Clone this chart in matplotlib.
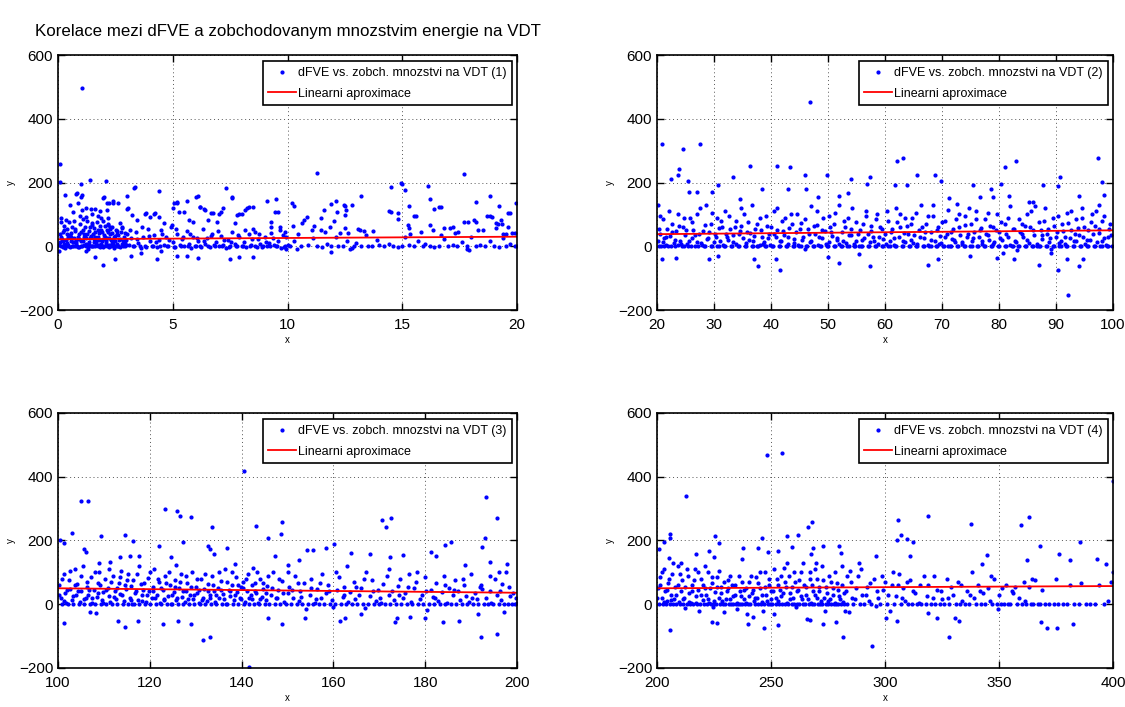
import numpy as np
import matplotlib
matplotlib.use("Agg")
import matplotlib.pyplot as plt

plt.rcParams['font.family'] = ['Liberation Sans Narrow', 'Liberation Sans', 'DejaVu Sans']

title = "Korelace mezi dFVE a zobchodovanym mnozstvim energie na VDT"
labels = ["dFVE vs. zobch. mnozstvi na VDT (1)", "dFVE vs. zobch. mnozstvi na VDT (2)",
          "dFVE vs. zobch. mnozstvi na VDT (3)", "dFVE vs. zobch. mnozstvi na VDT (4)"]
fit_label = "Linearni aproximace"

xlims = [(0, 20), (20, 100), (100, 200), (200, 400)]
xticks = [[0, 5, 10, 15, 20], [20, 30, 40, 50, 60, 70, 80, 90, 100],
          [100, 120, 140, 160, 180, 200], [200, 250, 300, 350, 400]]
yticks = [-200, 0, 200, 400, 600]

# linear fits (end points)
fit1 = [(0, 22), (20, 30)]
fit2 = [(20, 38), (100, 50)]
fit3 = [(100, 50), (200, 36)]
fit4 = [(200, 50), (400, 57)]

# panel 1 points (x, y)
p1 = [
    (0.08, 259), (0.1, 201), (1.0, 196), (1.4, 209), (2.1, 206), (1.06, 497), (0.3, 161), (0.8, 163),
    (1.0, 155), (1.95, 150), (2.15, 137), (2.4, 137), (3.0, 159), (3.3, 184), (4.4, 173), (1.2, 120),
    (1.6, 117), (3.0, 117), (3.8, 101), (4.2, 101), (5.0, 120), (5.2, 137), (5.6, 143), (6.0, 153),
    (6.1, 158), (6.2, 122), (6.4, 115), (7.3, 184), (7.6, 151), (7.0, 101), (7.2, 120), (7.9, 101),
    (8.3, 122), (8.5, 124), (9.1, 143), (9.5, 148), (9.6, 108), (10.2, 135), (10.3, 126), (10.85, 91),
    (11.3, 231), (11.6, 113), (11.9, 134), (12.1, 143), (12.5, 125), (12.8, 130), (13.2, 158), (14.5, 186),
    (14.5, 108), (15.0, 196), (15.1, 177), (15.3, 125), (15.6, 94), (16.1, 189), (16.2, 147), (16.4, 117),
    (16.7, 122), (17.7, 227), (18.2, 139), (18.8, 159), (18.9, 92), (19.2, 125), (19.7, 103), (19.95, 137),
    (19.35, 70), (19.1, 57),
    (1.95, -59), (1.6, -35), (2.5, -40), (4.3, -40), (5.2, -30), (5.6, -30), (6.1, -36), (7.5, -39),
    (7.9, -34), (8.5, -34), (11.9, -18), (3.2, -31), (1.2, -15), (0.05, -15), (3.6, -21), (4.5, -15),
    (17.8, -10), (12.7, -10), (9.95, -10),
    (0.12, 77), (0.33, 82), (0.52, 129), (0.67, 108), (0.81, 166), (0.86, 137), (1.03, 161), (1.03, 114),
    (1.2, 93), (1.42, 116), (1.5, 72), (1.73, 95), (1.83, 112), (2.02, 156), (2.12, 114), (2.19, 88),
    (2.22, 135), (2.41, 143), (2.63, 135), (2.19, 67), (3.04, 121), (3.24, 98), (3.35, 187), (3.43, 82),
    (3.82, 103), (4.0, 93), (4.22, 103), (4.4, 93), (4.63, 72), (4.95, 67), (5.07, 135), (5.17, 140),
    (5.27, 108), (5.5, 106), (5.7, 82), (5.9, 77), (6.18, 124), (6.37, 116), (6.55, 82), (6.66, 105),
    (6.76, 105), (6.91, 77), (7.08, 108), (7.56, 153), (7.7, 72), (7.78, 98), (8.0, 100), (8.13, 114),
    (8.25, 119), (8.57, 46), (9.27, 77), (9.3, 61), (9.47, 108), (9.67, 51), (9.87, 46),
    (10.25, 63), (10.47, 40), (10.65, 74), (10.73, 82), (11.05, 51), (11.17, 63), (11.44, 88), (11.46, 51),
    (11.63, 46), (11.85, 61), (12.04, 79), (12.14, 106), (12.29, 43), (12.45, 129), (12.5, 98), (12.5, 56),
    (12.55, 114), (12.65, 43), (13.06, 53), (13.16, 51), (13.33, 49), (13.74, 48), (14.44, 111), (14.83, 103),
    (14.83, 87), (14.93, 199), (15.23, 67), (15.29, 56), (15.34, 40), (15.53, 96), (15.81, 46), (16.21, 66),
    (16.32, 51), (16.61, 124), (16.69, 35), (16.8, 56), (17.1, 56), (17.2, 61), (17.31, 43), (17.41, 45),
    (17.7, 77), (17.88, 77), (18.13, 82), (18.21, 77), (18.31, 51), (18.53, 51), (18.69, 95), (18.81, 95),
    (19.07, 72), (19.19, 70), (19.29, 82), (19.4, 40), (19.5, 38), (19.59, 105), (19.59, 61), (19.8, 43),
    (19.9, 43),
    (0.05, 5), (0.1, 12), (0.15, 30), (0.2, 45), (0.25, 8), (0.3, -5), (0.35, 20), (0.4, 55), (0.45, 3),
    (0.5, 35), (0.55, 15), (0.6, 62), (0.65, 0), (0.7, 25), (0.75, 48), (0.8, 10), (0.85, -3), (0.9, 38),
    (0.95, 70), (1.0, 18), (1.05, 2), (1.1, 52), (1.15, 28), (1.2, 6), (1.25, 40), (1.3, -8), (1.35, 14),
    (1.4, 60), (1.45, 33), (1.5, 1), (1.55, 22), (1.6, 45), (1.65, 9), (1.7, 75), (1.75, 30), (1.8, 4),
    (1.85, 50), (1.9, 17), (1.95, -2), (2.0, 36), (2.05, 65), (2.1, 11), (2.15, 27), (2.2, 3), (2.25, 55),
    (2.3, 20), (2.35, 42), (2.4, 6), (2.45, -6), (2.5, 31), (2.55, 48), (2.6, 2), (2.7, 24), (2.8, 58),
    (2.9, 10), (3.0, 38),
    (0.12, 0), (0.22, -2), (0.32, 1), (0.42, 0), (0.52, -1), (0.62, 2), (0.72, 0), (0.82, 1), (0.92, -2),
    (1.02, 0), (1.12, 3), (1.22, 0), (1.32, -1), (1.42, 1), (1.52, 0), (1.62, 2), (1.72, 0), (1.82, -2),
    (1.92, 0), (2.02, 1), (2.12, 0), (2.22, -1), (2.32, 2), (2.42, 0), (2.52, 1), (2.62, 0), (2.72, -2),
    (2.82, 0), (2.92, 1),
    (0.18, 22), (0.38, 40), (0.58, 30), (0.78, 18), (0.98, 45), (1.18, 35), (1.38, 25), (1.58, 12),
    (1.78, 42), (1.98, 24), (2.18, 46), (2.38, 15), (2.58, 38), (2.78, 8), (2.98, 20), (0.28, 65),
    (0.68, 80), (1.08, 85), (1.48, 68), (1.88, 88), (2.28, 60), (2.68, 72),
    (0.07, 40), (0.14, 90), (0.23, 18), (0.27, 50), (0.37, 10), (0.43, 28), (0.47, 75), (0.57, 42),
    (0.63, 12), (0.73, 55), (0.77, 4), (0.87, 30), (0.93, 22), (0.97, 95), (1.07, 15), (1.13, 40),
    (1.17, 62), (1.23, 25), (1.27, 80), (1.33, 48), (1.37, 5), (1.43, 30), (1.47, 100), (1.53, 40),
    (1.57, 58), (1.63, 28), (1.67, 15), (1.73, 50), (1.77, 20), (1.83, 65), (1.87, 8), (1.93, 45),
    (1.97, 78), (2.03, 30), (2.07, 15), (2.13, 52), (2.17, 70), (2.23, 25), (2.27, 40), (2.33, 10),
    (2.37, 62), (2.43, 30), (2.47, 18), (2.53, 50), (2.57, 8), (2.63, 35), (2.67, 20), (2.73, 45),
    (2.77, 60), (2.83, 15), (2.87, 30), (2.93, 42), (2.97, 5),
    (3.15, 50), (3.45, 22), (3.65, 60), (3.95, 32), (4.25, 12), (4.55, 38), (4.85, 20), (5.15, 55),
    (5.45, 28), (5.75, 40), (6.05, 25), (6.35, 15), (6.65, 32), (6.95, 48), (7.25, 20), (7.55, 12),
    (7.85, 35), (8.15, 50), (8.45, 22), (8.75, 40), (9.05, 12), (9.35, 25), (9.65, 60), (9.95, 30),
    (3.1, 5), (3.2, 25), (3.3, 0), (3.4, 45), (3.5, 10), (3.6, -4), (3.7, 30), (3.8, 2), (3.9, 55),
    (4.0, 15), (4.1, 0), (4.2, 35), (4.3, -3), (4.4, 20), (4.5, 50), (4.6, 4), (4.7, 28), (4.8, 0),
    (4.9, 60), (5.0, 12), (5.1, -2), (5.2, 38), (5.3, 3), (5.4, 22), (5.5, 0), (5.6, 47), (5.7, 8),
    (5.8, -5), (5.9, 30), (6.0, 2), (6.1, 18), (6.2, 0), (6.3, 55), (6.4, 6), (6.5, 25), (6.6, -1),
    (6.7, 40), (6.8, 3), (6.9, 12), (7.0, 0), (7.1, 33), (7.2, 5), (7.3, -4), (7.4, 20), (7.5, 0),
    (7.6, 45), (7.7, 7), (7.8, 2), (7.9, 28), (8.0, 0), (8.1, 14), (8.2, -3), (8.3, 38), (8.4, 4),
    (8.5, 55), (8.6, 0), (8.7, 22), (8.8, 6), (8.9, -2), (9.0, 30), (9.1, 0), (9.2, 10), (9.3, 42),
    (9.4, 3), (9.5, 0), (9.6, 18), (9.7, -6), (9.8, 35), (9.9, 1),
    (3.25, 0), (3.55, 1), (3.85, -1), (4.15, 0), (4.45, 2), (4.75, 0), (5.05, -1), (5.35, 0), (5.65, 1),
    (5.95, 0), (6.25, -2), (6.55, 0), (6.85, 1), (7.15, 0), (7.45, -1), (7.75, 0), (8.05, 1), (8.35, 0),
    (8.65, -1), (8.95, 0), (9.25, 2), (9.55, 0), (9.85, -1),
    (10.0, 5), (10.1, 0), (10.3, 15), (10.4, -8), (10.6, 0), (10.9, 3), (11.1, 25), (11.3, 0), (11.5, -2),
    (11.7, 8), (11.9, 0), (12.1, 30), (12.2, 2), (12.4, 0), (12.6, 18), (12.8, -4), (12.9, 0), (13.0, 10),
    (13.2, 0), (13.4, 35), (13.5, 2), (13.7, 0), (13.9, 20), (14.0, 5), (14.2, 0), (14.4, 8), (14.6, 0),
    (14.8, -3), (15.0, 0), (15.1, 28), (15.3, 3), (15.5, 0), (15.7, 15), (15.9, 0), (16.0, 6), (16.2, 0),
    (16.4, -2), (16.6, 0), (16.8, 22), (17.0, 0), (17.2, 4), (17.4, 0), (17.6, 12), (17.8, 0), (17.9, -12),
    (18.0, 30), (18.2, 0), (18.4, 5), (18.6, 0), (18.8, 18), (19.0, 0), (19.2, -3), (19.4, 25), (19.5, 0),
    (19.7, 8), (19.9, 0), (20.0, 2),
]

# panel 2 points (x, y)
p2 = [
    (20.8, 321), (24.5, 305), (27.5, 321), (46.8, 454), (36.4, 253), (41.0, 253), (43.4, 250), (45.9, 224),
    (23.9, 241), (23.6, 222), (22.4, 211), (25.4, 206), (33.4, 217), (30.7, 191), (49.8, 222), (54.0, 210),
    (57.4, 218), (62.1, 266), (63.2, 276), (68.7, 225), (69.8, 206), (65.7, 225), (83.0, 269), (81.1, 248),
    (97.3, 277), (90.7, 218), (98.0, 203), (75.5, 193), (78.6, 180), (80.4, 194), (87.8, 191), (90.4, 189),
    (63.9, 193), (61.8, 191), (56.8, 196), (51.9, 159), (53.5, 166), (48.3, 154), (46.1, 180), (42.9, 180),
    (38.5, 180), (34.6, 147), (29.6, 170), (27.1, 170), (25.6, 170), (20.1, 128), (71.3, 151), (72.6, 133),
    (76.6, 156), (78.9, 156), (81.7, 157), (85.2, 139), (86.0, 139), (94.1, 159), (97.5, 128), (98.5, 161),
    (20.9, -39), (23.4, -36), (29.1, -41), (30.7, -30), (37.0, -39), (37.7, -61), (41.6, -76), (40.8, -39),
    (50.0, -33), (51.9, -54), (57.3, -61), (55.4, -23), (67.5, -59), (69.3, -39), (74.9, -31), (79.6, -36),
    (82.7, -39), (87.1, -59), (90.3, -75), (92.1, -153), (94.1, -61), (94.8, -41), (89.1, -21), (91.9, -41),
    (20.2, 15), (20.5, 40), (20.7, 0), (21.0, 85), (21.2, 25), (21.5, 5), (21.8, 55), (22.0, 0), (22.3, 32),
    (22.6, 70), (22.9, 10), (23.1, 0), (23.4, 48), (23.7, 100), (24.0, 18), (24.3, 0), (24.6, 62), (24.9, 35),
    (25.2, 8), (25.5, 0), (25.8, 90), (26.1, 27), (26.4, 52), (26.7, 0), (27.0, 14), (27.3, 38), (27.6, 120),
    (27.9, 3), (28.2, 0), (28.5, 66), (28.8, 22), (29.1, 45), (29.4, 0), (29.7, 105), (30.0, 12), (30.3, 30),
    (30.6, 0), (30.9, 58), (31.2, 78), (31.5, 5), (31.8, 0), (32.1, 40), (32.4, 20), (32.7, 95), (33.0, 0),
    (33.3, 35), (33.6, 62), (33.9, 8), (34.2, 0), (34.5, 48), (34.8, 120), (35.1, 25), (35.4, 0), (35.7, 10),
    (36.0, 75), (36.3, 42), (36.6, 0), (36.9, 18), (37.2, 55), (37.5, 2), (37.8, 0), (38.1, 88), (38.4, 30),
    (38.7, 12), (39.0, 0), (39.3, 65), (39.6, 40), (39.9, 5), (40.2, 0), (40.5, 110), (40.8, 28), (41.1, 50),
    (41.4, 0), (41.7, 15), (42.0, 80), (42.3, 36), (42.6, 0), (42.9, 8), (43.2, 58), (43.5, 100), (43.8, 0),
    (44.1, 22), (44.4, 45), (44.7, 3), (45.0, 0), (45.3, 72), (45.6, 30), (45.9, -10), (46.2, 0), (46.5, 55),
    (46.8, 12), (47.1, 125), (47.4, 0), (47.7, 38), (48.0, 68), (48.3, 4), (48.6, 0), (48.9, 26), (49.2, 90),
    (49.5, 48), (49.8, 0), (50.1, 14), (50.4, 60), (50.7, 32), (51.0, 0), (51.3, 105), (51.6, 20), (51.9, 6),
    (52.2, 0), (52.5, 44), (52.8, 78), (53.1, 10), (53.4, 0), (53.7, 35), (54.0, 55), (54.3, 120), (54.6, 0),
    (54.9, 18), (55.2, 40), (55.5, 2), (55.8, 0), (56.1, 70), (56.4, 25), (56.7, 95), (57.0, 0), (57.3, 12),
    (57.6, 48), (57.9, 30), (58.2, 0), (58.5, 85), (58.8, 8), (59.1, 60), (59.4, 0), (59.7, 22), (60.0, 40),
    (60.3, 110), (60.6, 0), (60.9, 15), (61.2, 55), (61.5, 5), (61.8, 0), (62.1, 75), (62.4, 28), (62.7, 100),
    (63.0, 0), (63.3, 42), (63.6, 12), (63.9, 65), (64.2, 0), (64.5, 20), (64.8, 88), (65.1, 35), (65.4, 0),
    (65.7, 8), (66.0, 50), (66.3, 130), (66.6, 0), (66.9, 25), (67.2, 70), (67.5, 4), (67.8, 0), (68.1, 45),
    (68.4, 95), (68.7, 18), (69.0, 0), (69.3, 60), (69.6, 32), (69.9, 10), (70.2, 0), (70.5, 80), (70.8, 40),
    (71.1, 2), (71.4, 0), (71.7, 22), (72.0, 55), (72.3, 12), (72.6, 0), (72.9, 100), (73.2, 35), (73.5, 6),
    (73.8, 0), (74.1, 68), (74.4, 28), (74.7, 120), (75.0, 0), (75.3, 15), (75.6, 45), (75.9, 85), (76.2, 0),
    (76.5, 30), (76.8, 58), (77.1, 8), (77.4, 0), (77.7, 40), (78.0, 105), (78.3, 20), (78.6, 0), (78.9, 62),
    (79.2, 12), (79.5, 50), (79.8, 0), (80.1, 25), (80.4, 75), (80.7, -20), (81.0, 0), (81.3, 38), (81.6, 90),
    (81.9, 5), (82.2, 0), (82.5, 55), (82.8, 18), (83.1, -12), (83.4, 0), (83.7, 45), (84.0, 70), (84.3, 28),
    (84.6, 0), (84.9, 100), (85.2, 10), (85.5, 60), (85.8, 0), (86.1, 35), (86.4, 125), (86.7, 2), (87.0, 0),
    (87.3, 50), (87.6, 22), (87.9, 80), (88.2, 0), (88.5, 40), (88.8, 12), (89.1, -8), (89.4, 0), (89.7, 65),
    (90.0, 30), (90.3, 95), (90.6, 0), (90.9, 18), (91.2, 48), (91.5, 6), (91.8, 0), (92.1, 72), (92.4, 25),
    (92.7, 110), (93.0, 0), (93.3, 40), (93.6, 15), (93.9, 58), (94.2, 0), (94.5, 88), (94.8, 30), (95.1, 8),
    (95.4, 0), (95.7, 50), (96.0, 20), (96.3, 100), (96.6, 0), (96.9, 65), (97.2, 12), (97.5, 42), (97.8, 0),
    (98.1, 80), (98.4, 25), (98.7, 5), (99.0, 0), (99.3, 55), (99.6, 35), (99.9, 0),
    (20.4, 0), (21.3, 2), (22.5, 0), (23.6, 3), (24.8, 0), (26.0, 1), (27.2, 0), (28.4, 2), (29.6, 0),
    (30.8, 1), (32.0, 0), (33.2, 2), (34.4, 0), (35.6, 1), (36.8, 0), (38.0, 3), (39.2, 0), (40.4, 1),
    (41.6, 0), (42.8, 2), (44.0, 0), (45.2, 1), (46.4, 0), (47.6, 2), (48.8, 0), (50.0, 1), (51.2, 0),
    (52.4, 2), (53.6, 0), (54.8, 1), (56.0, 0), (57.2, 2), (58.4, 0), (59.6, 1), (60.8, 0), (62.0, 2),
    (63.2, 0), (64.4, 1), (65.6, 0), (66.8, 2), (68.0, 0), (69.2, 1), (70.4, 0), (71.6, 2), (72.8, 0),
    (74.0, 1), (75.2, 0), (76.4, 2), (77.6, 0), (78.8, 1), (80.0, 0), (81.2, 2), (82.4, 0), (83.6, 1),
    (84.8, 0), (86.0, 2), (87.2, 0), (88.4, 1), (89.6, 0), (90.8, 2), (92.0, 0), (93.2, 1), (94.4, 0),
    (95.6, 2), (96.8, 0), (98.0, 1), (99.2, 0),
    (20.3, 55), (20.6, 95), (21.1, 12), (21.6, 30), (22.1, 110), (22.7, 45), (23.2, 20), (23.8, 65),
    (24.2, 8), (24.7, 90), (25.1, 50), (25.6, 15), (26.2, 75), (26.6, 35), (27.1, 100), (27.7, 10),
    (28.0, 48), (28.6, 130), (29.0, 25), (29.5, 70), (30.1, 40), (30.5, 90), (31.0, 18), (31.4, 60),
    (31.9, 110), (32.3, 28), (32.8, 55), (33.4, 12), (33.8, 80), (34.3, 38), (34.7, 65), (35.2, 100),
    (35.8, 45), (36.2, 20), (36.7, 130), (37.1, 32), (37.6, 70), (38.2, 50), (38.6, 8), (39.1, 95),
    (39.5, 25), (40.0, 60), (40.6, 40), (41.0, 120), (41.5, 18), (42.1, 48), (42.5, 90), (43.0, 30),
    (43.6, 70), (44.0, 10), (44.5, 100), (45.1, 55), (45.5, 20), (46.0, 85), (46.6, 40), (47.0, 15),
    (47.5, 65), (48.1, 110), (48.5, 30), (49.0, 50), (49.6, 8), (50.2, 95), (50.6, 45), (51.1, 70),
    (51.5, 25), (52.0, 130), (52.6, 15), (53.0, 60), (53.5, 90), (54.1, 35), (54.5, 8), (55.0, 75),
    (55.6, 50), (56.0, 20), (56.6, 110), (57.1, 40), (57.5, 65), (58.0, 15), (58.6, 100), (59.0, 30),
    (59.5, 55), (60.1, 8), (60.5, 80), (61.0, 45), (61.6, 25), (62.0, 120), (62.6, 60), (63.1, 18),
    (63.5, 90), (64.0, 38), (64.6, 70), (65.0, 10), (65.5, 105), (66.1, 28), (66.5, 60), (67.0, 45),
    (67.6, 95), (68.0, 20), (68.5, 130), (69.1, 50), (69.5, 8), (70.0, 75), (70.6, 30), (71.0, 115),
    (71.5, 45), (72.1, 20), (72.5, 85), (73.0, 60), (73.6, 12), (74.0, 95), (74.5, 40), (75.1, 70),
    (75.5, 25), (76.0, 110), (76.6, 50), (77.0, 15), (77.5, 85), (78.1, 35), (78.5, 65), (79.0, 8),
    (79.6, 100), (80.0, 45), (80.5, 20), (81.1, 70), (81.5, 30), (82.0, 125), (82.6, 55), (83.0, 12),
    (83.5, 85), (84.1, 40), (84.5, 65), (85.0, 20), (85.6, 110), (86.0, 50), (86.6, 8), (87.1, 75),
    (87.5, 35), (88.0, 120), (88.6, 55), (89.0, 25), (89.5, 90), (90.1, 45), (90.5, 10), (91.0, 70),
    (91.6, 30), (92.0, 105), (92.6, 50), (93.1, 15), (93.5, 85), (94.0, 35), (94.6, 120), (95.0, 60),
    (95.5, 20), (96.1, 75), (96.5, 40), (97.0, 110), (97.6, 55), (98.0, 15), (98.5, 95), (99.1, 30),
    (99.5, 70),
]

# panel 3 points (x, y)
p3 = [
    (140.5, 419), (104.9, 325), (106.6, 325), (123.3, 299), (126.0, 293), (126.5, 278), (129.0, 275),
    (133.5, 241), (143.1, 246), (148.8, 257), (148.5, 219), (145.8, 207), (103.0, 224), (100.4, 203),
    (101.3, 191), (109.3, 215), (114.6, 217), (116.3, 198), (122.0, 184), (127.3, 194), (132.6, 184),
    (133.2, 173), (133.9, 156), (136.7, 175), (170.6, 263), (171.4, 242), (172.6, 270), (193.2, 335),
    (195.7, 270), (193.0, 207), (185.6, 196), (184.2, 186), (160.2, 189), (158.4, 175), (181.3, 165),
    (182.3, 152), (172.4, 147), (175.2, 155), (168.0, 158), (163.8, 162), (154.3, 170), (155.6, 170),
    (152.4, 139), (150.0, 123), (192.3, 180), (194.0, 134), (197.8, 125), (196.0, 102), (105.7, 172),
    (106.0, 163), (108.9, 128), (111.3, 134), (113.6, 149), (115.7, 151), (117.7, 152), (124.5, 147),
    (125.6, 123), (138.5, 125), (142.5, 113), (147.3, 151), (188.7, 123),
    (101.3, -60), (107.0, -23), (108.2, -26), (113.0, -52), (114.6, -72), (117.5, -52), (122.9, -63),
    (126.2, -52), (129.0, -63), (131.5, -112), (133.0, -103), (141.6, -198), (145.8, -42), (148.8, -63),
    (153.8, -44), (161.4, -54), (162.6, -42), (166.0, -30), (173.5, -56), (173.9, -42), (176.6, -39),
    (179.9, -42), (183.8, -56), (187.4, -52), (192.1, -103), (195.7, -93), (191.6, -30), (197.2, -23),
    (100.3, 60), (100.6, 20), (100.9, 0), (101.2, 95), (101.5, 35), (101.8, 5), (102.1, 0), (102.4, 75),
    (102.7, 48), (103.0, 12), (103.3, 0), (103.6, 110), (103.9, 28), (104.2, 62), (104.5, 0), (104.8, 8),
    (105.1, 40), (105.4, 120), (105.7, 0), (106.0, 18), (106.3, 55), (106.6, 30), (106.9, 0), (107.2, 85),
    (107.5, 3), (107.8, 45), (108.1, 0), (108.4, 22), (108.7, 68), (109.0, 100), (109.3, 0), (109.6, 14),
    (109.9, 38), (110.2, 80), (110.5, 0), (110.8, 52), (111.1, 25), (111.4, 6), (111.7, 0), (112.0, 90),
    (112.3, 42), (112.6, 15), (112.9, 0), (113.2, 65), (113.5, 32), (113.8, 105), (114.1, 0), (114.4, 10),
    (114.7, 48), (115.0, 75), (115.3, 0), (115.6, 20), (115.9, 58), (116.2, 2), (116.5, 0), (116.8, 35),
    (117.1, 95), (117.4, 12), (117.7, 0), (118.0, 62), (118.3, 28), (118.6, 45), (118.9, 0), (119.2, 8),
    (119.5, 82), (119.8, 40), (120.1, 0), (120.4, 18), (120.7, 55), (121.0, 110), (121.3, 0), (121.6, 30),
    (121.9, 70), (122.2, 5), (122.5, 0), (122.8, 45), (123.1, 15), (123.4, 90), (123.7, 0), (124.0, 25),
    (124.3, 60), (124.6, 2), (124.9, 0), (125.2, 38), (125.5, 75), (125.8, 12), (126.1, 0), (126.4, 52),
    (126.7, 95), (127.0, 22), (127.3, 0), (127.6, 8), (127.9, 42), (128.2, 68), (128.5, 0), (128.8, 30),
    (129.1, 100), (129.4, 15), (129.7, 0), (130.0, 55), (130.3, 35), (130.6, 4), (130.9, 0), (131.2, 80),
    (131.5, 20), (131.8, 48), (132.1, 0), (132.4, 10), (132.7, 62), (133.0, 28), (133.3, 0), (133.6, 90),
    (133.9, 40), (134.2, 6), (134.5, 0), (134.8, 50), (135.1, 18), (135.4, 72), (135.7, 0), (136.0, 32),
    (136.3, 112), (136.6, 2), (136.9, 0), (137.2, 45), (137.5, 25), (137.8, 60), (138.1, 0), (138.4, 12),
    (138.7, 85), (139.0, 38), (139.3, 0), (139.6, 20), (139.9, 55), (140.2, 70), (140.5, 0), (140.8, 8),
    (141.1, 42), (141.4, 95), (141.7, 0), (142.0, 28), (142.3, 15), (142.6, 0), (142.9, 65), (143.2, 35),
    (143.5, 5), (143.8, 0), (144.1, 78), (144.4, 22), (144.7, 48), (145.0, 0), (145.3, 12), (145.6, 58),
    (146.0, 0), (146.4, 30), (146.8, 100), (147.2, 0), (147.6, 18), (148.0, 45), (148.4, 0), (148.8, 72),
    (149.2, 8), (149.6, 0), (150.0, 35), (150.4, 55), (150.8, 0), (151.2, 20), (151.6, 88), (152.0, 0),
    (152.4, 10), (152.8, 42), (153.2, 0), (153.6, 65), (154.0, -15), (154.4, 0), (154.8, 28), (155.2, 80),
    (155.6, 0), (156.0, 5), (156.4, 48), (156.8, 0), (157.2, 18), (157.6, 95), (158.0, 0), (158.4, 35),
    (158.8, 60), (159.2, 0), (159.6, 12), (160.0, -10), (160.4, 0), (160.8, 45), (161.2, 85), (161.6, 0),
    (162.0, 22), (162.4, 55), (162.8, 0), (163.2, 8), (163.6, 38), (164.0, 0), (164.4, 70), (164.8, 15),
    (165.2, 0), (165.6, 30), (166.0, 50), (166.4, 0), (166.8, -12), (167.2, 100), (167.6, 0), (168.0, 25),
    (168.4, 75), (168.8, 0), (169.2, 10), (169.6, 45), (170.0, 0), (170.4, 5), (170.8, 62), (171.2, 0),
    (171.6, 90), (172.0, 28), (172.4, 0), (172.8, 40), (173.2, 12), (173.6, 0), (174.0, 58), (174.4, 80),
    (174.8, 0), (175.2, 20), (175.6, 35), (176.0, 0), (176.4, 95), (176.8, 8), (177.2, 0), (177.6, 50),
    (178.0, 70), (178.4, 0), (178.8, 15), (179.2, 30), (179.6, 0), (180.0, 85), (180.4, -18), (180.8, 0),
    (181.2, 45), (181.6, 22), (182.0, 0), (182.4, 65), (182.8, 10), (183.2, 0), (183.6, 38), (184.0, 90),
    (184.4, 0), (184.8, 5), (185.2, 52), (185.6, 0), (186.0, 28), (186.4, 75), (186.8, 0), (187.2, 40),
    (187.6, 12), (188.0, 0), (188.4, 60), (188.8, 25), (189.2, 0), (189.6, 8), (190.0, 95), (190.4, 0),
    (190.8, 35), (191.2, 15), (191.6, 0), (192.0, 55), (192.4, 48), (192.8, 0), (193.2, 20), (193.6, 0),
    (194.0, 40), (194.4, 5), (194.8, 0), (195.2, 80), (195.6, 30), (196.0, 0), (196.4, 12), (196.8, 62),
    (197.2, 0), (197.6, 100), (198.0, 0), (198.4, 25), (198.8, 0), (199.2, 35), (199.6, 0), (199.9, 5),
    (100.2, 30), (100.8, 80), (101.4, 10), (102.0, 45), (102.6, 105), (103.2, 25), (103.8, 60), (104.4, 40),
    (105.0, 90), (105.6, 15), (106.2, 70), (106.8, 45), (107.4, 20), (108.0, 100), (108.6, 35), (109.2, 60),
    (109.8, 5), (110.4, 45), (111.0, 110), (111.6, 70), (112.2, 22), (112.8, 50), (113.4, 85), (114.0, 30),
    (114.6, 60), (115.2, 95), (115.8, 12), (116.4, 75), (117.0, 40), (117.6, 120), (118.2, 10), (118.8, 65),
    (119.4, 30), (120.0, 100), (120.6, 40), (121.2, 20), (121.8, 80), (122.4, 50), (123.0, 12), (123.6, 65),
    (124.2, 100), (124.8, 30), (125.4, 55), (126.0, 20), (126.6, 70), (127.2, 42), (127.8, 90), (128.4, 15),
    (129.0, 55), (129.6, 30), (130.2, 80), (130.8, 45), (131.4, 12), (132.0, 95), (132.6, 40), (133.2, 20),
    (133.8, 60), (134.4, 30), (135.0, 100), (135.6, 45), (136.2, 15), (136.8, 70), (137.4, 40), (138.0, 100),
    (138.6, 30), (139.2, 60), (139.8, 15), (140.4, 50), (141.0, 80), (141.6, 20), (142.2, 60), (142.8, 40),
    (143.4, 100), (144.0, 15), (144.6, 65), (145.2, 35), (145.8, 90), (146.6, 50), (147.4, 20), (148.2, 80),
    (149.0, 35), (150.2, 100), (151.0, 45), (152.2, 65), (153.0, 22), (155.0, 50), (156.2, 15), (157.0, 68),
    (159.0, 40), (160.6, 100), (162.2, 30), (163.0, 120), (165.0, 55), (166.6, 80), (168.6, 40), (170.2, 20),
    (172.2, 110), (174.2, 30), (176.2, 55), (178.2, 100), (180.2, 40), (182.2, 20), (184.2, 60), (186.2, 45),
    (188.2, 80), (190.2, 20), (192.2, 60), (194.2, 90), (196.2, 40), (198.2, 55), (199.8, 20),
]

# panel 4 points (x, y)
p4 = [
    (248.3, 468), (255.0, 475), (212.7, 338), (363.2, 273), (359.5, 248), (318.9, 278), (305.7, 263),
    (337.8, 252), (268.1, 257), (266.2, 242), (306.9, 218), (305.4, 203), (309.8, 205), (312.5, 194),
    (261.8, 216), (257.0, 215), (245.9, 208), (225.6, 213), (227.3, 192), (205.9, 221), (205.5, 208),
    (202.9, 194), (200.8, 174), (385.4, 195), (393.0, 143), (397.0, 127), (367.9, 182), (362.4, 140),
    (376.3, 156), (381.0, 138), (400.0, 388), (344.6, 154), (342.7, 125), (311.1, 151), (295.9, 151),
    (288.8, 130), (284.8, 104), (280.0, 184), (280.8, 161), (272.7, 184), (268.3, 177), (267.5, 156),
    (269.8, 130), (259.0, 179), (253.2, 166), (248.5, 163), (244.1, 177), (237.8, 175), (237.1, 142),
    (224.9, 148), (222.7, 166), (217.0, 156), (210.4, 130), (205.2, 146),
    (205.9, -81), (224.2, -55), (226.1, -59), (239.9, -62), (247.0, -76), (253.1, -66), (267.3, -50),
    (272.9, -62), (278.4, -55), (281.6, -102), (294.3, -130), (300.6, -42), (305.4, -52), (328.0, -102),
    (330.7, -42), (332.3, -52), (368.4, -55), (371.1, -76), (375.5, -76), (382.6, -62), (349.4, -16),
    (318.9, -26), (322.8, -42),
    (200.5, 50), (201.0, 0), (201.5, 85), (202.0, 20), (202.5, 0), (203.0, 110), (203.5, 40), (204.0, 0),
    (204.5, 10), (205.0, 65), (205.5, 0), (206.0, 30), (206.5, 95), (207.0, 0), (207.5, 15), (208.0, 55),
    (208.5, 0), (209.0, 120), (209.5, 8), (210.0, 0), (210.5, 40), (211.0, 75), (211.5, 0), (212.0, 20),
    (212.5, -12), (213.0, 0), (213.5, 90), (214.0, 35), (214.5, 0), (215.0, 5), (215.5, 60), (216.0, 0),
    (216.5, 110), (217.0, 25), (217.5, 0), (218.0, 45), (218.5, -20), (219.0, 0), (219.5, 80), (220.0, 12),
    (220.5, 0), (221.0, 50), (221.5, 30), (222.0, 0), (222.5, 100), (223.0, 5), (223.5, 0), (224.0, 65),
    (224.5, -10), (225.0, 0), (225.5, 38), (226.0, 0), (226.5, 85), (227.0, 20), (227.5, 0), (228.0, 55),
    (228.5, 10), (229.0, 0), (229.5, -25), (230.0, 0), (230.5, 40), (231.0, 75), (231.5, 0), (232.0, 15),
    (232.5, 0), (233.0, 60), (233.5, 0), (234.0, 30), (234.5, 0), (235.0, -15), (235.5, 0), (236.0, 90),
    (236.5, 0), (237.0, 25), (237.5, 0), (238.0, 45), (238.5, 0), (239.0, 5), (239.5, -30), (240.0, 0),
    (240.5, 70), (241.0, 0), (241.5, 35), (242.0, -40), (242.5, 10), (243.0, 0), (243.5, 85), (244.0, 20),
    (244.5, 0), (245.0, 50), (245.5, 0), (246.0, 8), (246.5, -20), (247.0, 0), (247.5, 100), (248.0, 30),
    (248.5, 0), (249.0, 60), (249.5, 0), (250.0, 15), (250.5, 0), (251.0, 40), (251.5, -30), (252.0, 0),
    (252.5, 80), (253.0, 10), (253.5, 0), (254.0, 45), (254.5, 25), (255.0, 0), (255.5, 115), (256.0, 0),
    (256.5, 55), (257.0, 5), (257.5, 0), (258.0, 90), (258.5, 35), (259.0, 0), (259.5, 20), (260.0, 0),
    (260.5, 70), (261.0, -10), (261.5, 0), (262.0, 45), (262.5, 0), (263.0, 100), (263.5, 15), (264.0, 0),
    (264.5, 60), (265.0, 0), (265.5, 30), (266.0, -45), (266.5, 0), (267.0, 80), (267.5, 5), (268.0, 0),
    (268.5, 40), (269.0, 0), (269.5, 110), (270.0, 20), (270.5, 0), (271.0, 55), (271.5, 0), (272.0, 10),
    (272.5, 0), (273.0, 75), (273.5, -20), (274.0, 0), (274.5, 35), (275.0, 0), (275.5, 90), (276.0, 15),
    (276.5, 0), (277.0, 50), (277.5, 0), (278.0, 5), (278.5, 0), (279.0, 65), (279.5, 0), (280.0, 25),
    (280.5, 0), (281.0, 120), (281.5, 8), (282.0, 0), (282.5, -20), (283.0, 40), (283.5, 0), (284.0, -25),
    (285.0, 70), (286.0, 0), (287.0, 15), (288.0, 90), (289.0, 0), (290.0, 30), (291.0, 0), (292.0, 55),
    (293.0, 10), (294.0, 0), (295.0, 80), (296.0, -5), (297.0, 20), (298.0, 0), (299.0, 45), (300.0, 70),
    (301.0, 0), (302.0, -20), (303.0, 60), (304.0, 0), (305.0, 25), (306.0, 95), (307.0, 0), (308.0, 50),
    (309.0, 10), (310.0, 0), (311.0, 75), (312.0, 0), (313.0, 35), (314.0, 0), (315.0, 5), (316.0, 0),
    (317.0, 90), (318.0, 0), (319.0, 60), (320.0, 0), (321.0, 20), (322.0, 0), (323.0, 45), (324.0, 0),
    (325.0, 15), (326.0, 0), (327.0, 80), (328.0, 0), (329.0, 55), (330.0, 30), (331.0, 0), (332.0, 70),
    (333.0, 0), (334.0, 10), (335.0, 0), (336.0, 40), (337.0, 0), (338.0, 100), (339.0, 20), (340.0, 0),
    (341.0, 60), (342.0, 0), (343.0, 35), (344.0, 0), (345.0, 50), (346.0, 10), (347.0, 0), (348.0, 80),
    (349.0, 0), (350.0, 30), (351.0, 0), (352.0, 0), (353.0, 60), (354.0, 0), (355.0, 0), (356.0, 35),
    (357.0, 55), (358.0, 0), (359.0, 20), (360.0, 0), (361.0, 70), (362.0, 0), (363.0, 55), (364.0, 0),
    (365.0, 0), (366.0, 75), (367.0, 0), (368.0, 0), (369.0, 45), (370.0, 0), (372.0, 0), (374.0, 0),
    (375.0, 80), (376.0, 0), (378.0, 0), (380.0, 0), (381.0, 60), (383.0, 0), (385.0, 0), (386.0, 65),
    (388.0, 0), (390.0, 0), (392.0, 0), (394.0, 60), (396.0, 0), (398.0, 10), (399.0, 70), (400.0, 100),
    (200.2, 20), (201.2, 60), (202.2, 100), (203.2, 8), (204.2, 45), (205.2, 80), (206.2, 12), (207.2, 130),
    (208.2, 30), (209.2, 60), (210.2, 95), (211.2, 15), (212.2, 55), (213.2, 110), (214.2, 8), (215.2, 40),
    (216.2, 75), (217.2, 5), (218.2, 100), (219.2, 30), (220.2, 60), (221.2, 120), (222.2, 15), (223.2, 50),
    (224.2, 85), (225.2, 10), (226.2, 55), (227.2, 105), (228.2, 35), (229.2, 70), (230.2, 15), (231.2, 50),
    (232.2, 90), (233.2, 25), (234.2, 60), (235.2, 5), (236.2, 40), (237.2, 70), (238.2, 15), (239.2, 50),
    (240.2, 25), (241.2, 90), (242.2, 45), (243.2, 20), (244.2, 65), (245.2, 100), (246.2, 30), (247.2, 55),
    (248.2, 10), (249.2, 80), (250.2, 40), (251.2, 110), (252.2, 20), (253.2, 60), (254.2, 90), (255.2, 35),
    (256.2, 70), (257.2, 130), (258.2, 15), (259.2, 55), (260.2, 100), (261.2, 40), (262.2, 75), (263.2, 25),
    (264.2, 130), (265.2, 55), (266.2, 15), (267.2, 100), (268.2, 60), (269.2, 30), (270.2, 80), (271.2, 40),
    (272.2, 120), (273.2, 20), (274.2, 55), (275.2, 10), (276.2, 70), (277.2, 30), (278.2, 100), (279.2, 45),
    (280.2, 15), (281.2, 60), (282.2, 35), (283.2, 90), (285.5, 20), (287.5, 50), (289.5, 110), (291.5, 30),
    (293.5, 65), (296.5, 40), (298.5, 90), (301.5, 30), (303.5, 100), (305.5, 60), (307.5, 20), (309.5, 70),
    (312.5, 40), (315.5, 60), (318.5, 25), (321.5, 90), (324.5, 40), (327.5, 20), (333.5, 60), (337.5, 30),
    (341.5, 40), (346.5, 90), (351.5, 50), (355.5, 40), (361.5, 10), (364.5, 80),
]

panels = [p1, p2, p3, p4]
fits = [fit1, fit2, fit3, fit4]

fig = plt.figure(figsize=(11.25, 7.07), dpi=100)
positions = [
    [0.0516, 0.5615, 0.408, 0.3607],
    [0.584, 0.5615, 0.4053, 0.3607],
    [0.0516, 0.0552, 0.408, 0.3607],
    [0.584, 0.0552, 0.4053, 0.3607],
]

for i in range(4):
    ax = fig.add_axes(positions[i])
    pts = np.array(panels[i])
    ax.plot(pts[:, 0], pts[:, 1], linestyle='none', marker='.', markersize=4,
            color='#0000ff', label=labels[i])
    f = np.array(fits[i])
    ax.plot(f[:, 0], f[:, 1], color='#ff0000', linewidth=1.3, label=fit_label)
    ax.set_xlim(*xlims[i])
    ax.set_ylim(-200, 600)
    ax.set_xticks(xticks[i])
    ax.set_yticks(yticks)
    ax.set_yticklabels(['\u2212200', '0', '200', '400', '600'])
    ax.grid(True, linestyle=(0, (1, 3)), color='#555555', linewidth=0.7)
    ax.tick_params(direction='in', top=True, right=True, labelsize=11, length=5, width=1)
    ax.tick_params(axis='x', pad=6)
    for s in ax.spines.values():
        s.set_linewidth(1.2)
    ax.set_xlabel('x', fontsize=7, labelpad=2)
    ax.set_ylabel('y', fontsize=7, labelpad=2)
    leg = ax.legend(loc='upper right', bbox_to_anchor=(0.99, 0.975), borderaxespad=0,
                    fontsize=9, fancybox=False, framealpha=1, edgecolor='black',
                    handlelength=2.2, handletextpad=0.2, borderpad=0.45, labelspacing=0.7,
                    markerscale=1.0)
    leg.get_frame().set_linewidth(1.2)
    if i == 0:
        ax.set_title(title, fontsize=12.2, loc='left', x=-0.05, pad=14)

fig.savefig('out.png', dpi=100)
